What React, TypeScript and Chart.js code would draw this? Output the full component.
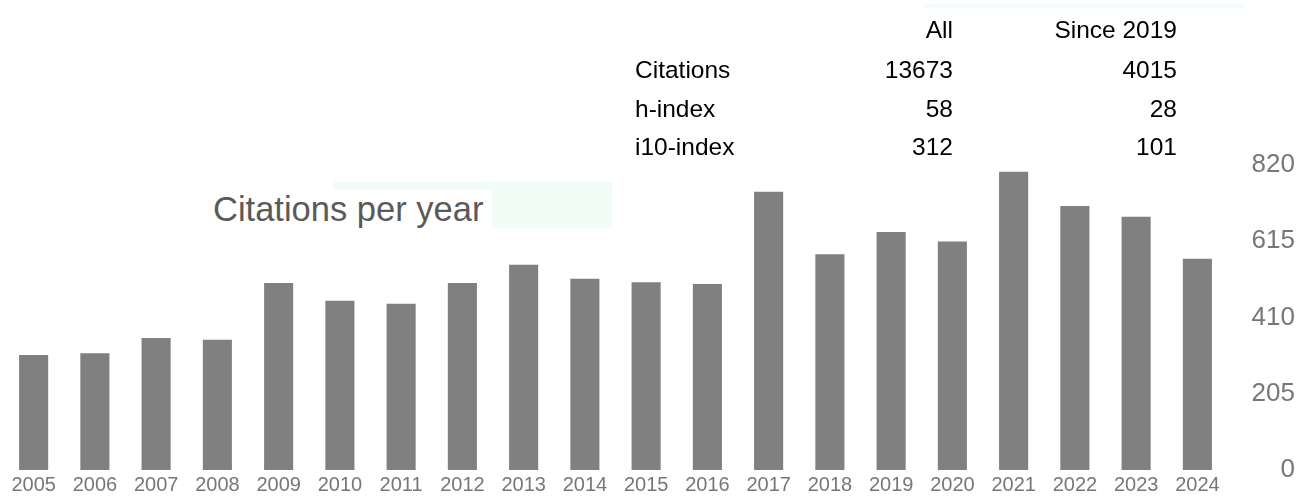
import React, { useEffect, useRef } from "react";
import { Chart, registerables } from "chart.js";

Chart.register(...registerables);

const years = [
  "2005", "2006", "2007", "2008", "2009", "2010", "2011", "2012", "2013", "2014",
  "2015", "2016", "2017", "2018", "2019", "2020", "2021", "2022", "2023", "2024",
];
const citations = [
  309, 314, 355, 350, 503, 455, 447, 503, 552, 514,
  505, 500, 748, 580, 640, 614, 802, 710, 681, 568,
];
const yTicks = [0, 205, 410, 615, 820];

const headerAll = "All";
const headerSince = "Since 2019";
const rowLabels = ["Citations", "h-index", "i10-index"];
const allValues = ["13673", "58", "312"];
const sinceValues = ["4015", "28", "101"];
const chartTitle = "Citations per year";

const FONT = "'Liberation Sans', Arial, Helvetica, sans-serif";

export default function App() {
  const canvasRef = useRef<HTMLCanvasElement | null>(null);

  useEffect(() => {
    document.body.style.margin = "0";
    const canvas = canvasRef.current;
    if (!canvas) return;
    const chart = new Chart(canvas, {
      type: "bar",
      data: {
        labels: years,
        datasets: [
          {
            data: citations,
            backgroundColor: "#808080",
            borderWidth: 0,
            barPercentage: 0.475,
            categoryPercentage: 1,
          },
        ],
      },
      options: {
        responsive: false,
        maintainAspectRatio: false,
        animation: false,
        layout: { padding: { left: 3, right: 10, top: 165, bottom: 2 } },
        plugins: {
          legend: { display: false },
          tooltip: { enabled: false },
          title: { display: false },
        },
        scales: {
          x: {
            grid: { display: false, drawTicks: false, tickLength: 0 },
            border: { display: false },
            afterFit: (scale: any) => {
              scale.height = 25;
            },
            ticks: {
              color: "#777777",
              font: { family: FONT, size: 20 },
              padding: 3,
              maxRotation: 0,
              autoSkip: false,
            },
          },
          y: {
            position: "right",
            min: 0,
            max: 820,
            afterBuildTicks: (scale: any) => {
              scale.ticks = yTicks.map((v) => ({ value: v }));
            },
            afterFit: (scale: any) => {
              scale.width = 67;
              scale.paddingTop = 0;
              scale.paddingBottom = 0;
            },
            grid: { display: false, drawTicks: false, tickLength: 0 },
            border: { display: false },
            ticks: {
              color: "#777777",
              font: { family: FONT, size: 26 },
              padding: 24,
              crossAlign: "far",
            },
          },
        },
      },
    } as any);
    return () => chart.destroy();
  }, []);

  const tableText: React.CSSProperties = {
    position: "absolute",
    fontFamily: FONT,
    fontSize: 24.5,
    lineHeight: "24.5px",
    color: "#000",
    whiteSpace: "nowrap",
  };
  const rowTops = [57.5, 96.5, 134.5];

  return (
    <div style={{ position: "relative", width: 1305, height: 497, overflow: "hidden", background: "#fff" }}>
      <canvas ref={canvasRef} width={1305} height={497} style={{ position: "absolute", left: 0, top: 0, width: 1305, height: 497 }} />
      <div style={{ position: "absolute", left: 923, top: 4, width: 321, height: 4, background: "#f3fdf8" }} />
      <div style={{ ...tableText, top: 17.5, right: 1305 - 953 }}>{headerAll}</div>
      <div style={{ ...tableText, top: 17.5, right: 1305 - 1177 }}>{headerSince}</div>
      {rowLabels.map((l, i) => (
        <React.Fragment key={l}>
          <div style={{ ...tableText, top: rowTops[i], left: 635 }}>{l}</div>
          <div style={{ ...tableText, top: rowTops[i], right: 1305 - 953 }}>{allValues[i]}</div>
          <div style={{ ...tableText, top: rowTops[i], right: 1305 - 1177 }}>{sinceValues[i]}</div>
        </React.Fragment>
      ))}
      <div style={{ position: "absolute", left: 333, top: 182, width: 279, height: 46, background: "#f3fdf8" }} />
      <div
        style={{
          position: "absolute",
          left: 205,
          top: 190,
          width: 287,
          height: 40,
          background: "#fff",
        }}
      />
      <div
        style={{
          position: "absolute",
          left: 213,
          top: 192,
          fontFamily: FONT,
          fontSize: 34.5,
          lineHeight: "34.5px",
          color: "#5a5a5a",
          whiteSpace: "nowrap",
        }}
      >
        {chartTitle}
      </div>
    </div>
  );
}
